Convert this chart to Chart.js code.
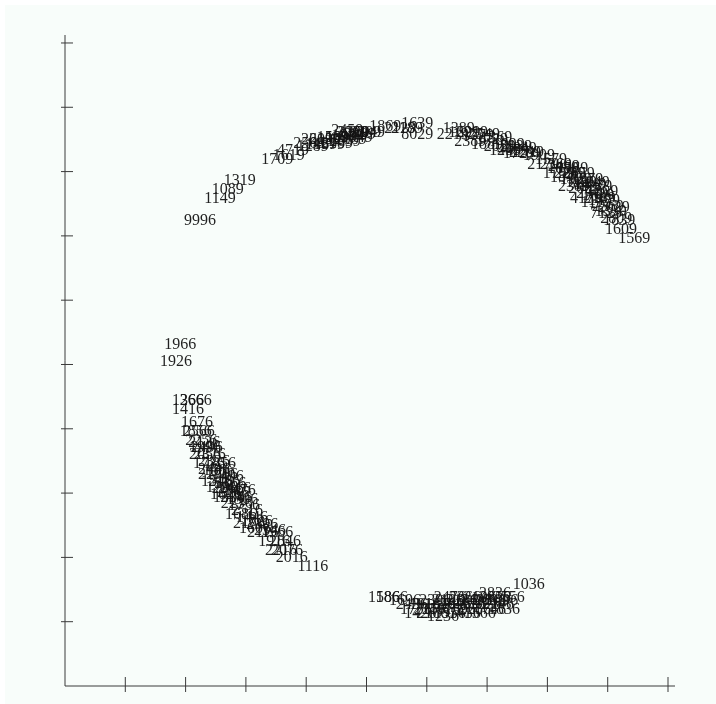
<!DOCTYPE html>
<html>
<head>
<meta charset="utf-8">
<style>
  html, body { margin: 0; padding: 0; background: #fff; }
  #wrap { position: relative; width: 716px; height: 704px; overflow: hidden; }
  #panel { position: absolute; left: 5px; top: 5px; right: 0; bottom: 0; background: #f8fdfa; }
  #chart { position: absolute; left: 0; top: 0; }
</style>
<script src="https://cdn.jsdelivr.net/npm/chart.js@4"></script>
</head>
<body>
<div id="wrap"><div id="panel"></div><canvas id="chart" width="716" height="704"></canvas></div>
<script>
const xTicks = [1, 2, 3, 4, 5, 6, 7, 8, 9, 10];
const yTicks = [1, 2, 3, 4, 5, 6, 7, 8, 9, 10];

// labels overlap a lot so the dense parts are estimates
const topLeftLabels = ['9996','1149','1089','1319','1709','4719','1619','2569','1289','2619','1459','2039','1879','1569','2189','1399','2659','1929','2089','2369','1749','2889','2069','2459','2309','2949','1869','2129','1639','8029','2189'];
const topLeftX = [2.24,2.57,2.70,2.90,3.52,3.78,3.71,4.05,4.11,4.18,4.25,4.31,4.38,4.44,4.51,4.58,4.64,4.69,4.74,4.79,4.84,4.89,4.76,4.68,4.98,5.04,5.31,5.56,5.84,5.84,5.67];
const topLeftY = [7.26,7.59,7.73,7.87,8.20,8.35,8.26,8.46,8.40,8.51,8.43,8.52,8.44,8.54,8.46,8.55,8.49,8.58,8.52,8.62,8.55,8.60,8.63,8.65,8.62,8.63,8.72,8.68,8.77,8.60,8.69];

const rightLabels = [
  '2219','1389','1629','2389','2919','1779','2549','1889','1729','1369',
  '2059','1459','1999','2459','2139','1729','1849','2289','1519','1909',
  '2179','1579','2369','1759','1689','2469','1849','2239','1569','2389',
  '1929','2659','1199','2089','4179','1379','1449','2749','1949','1119',
  '2279','1639','2189','1809','1479','7129','2569','1339','2029','2809',
  '1839','1609','1569'
];
const rightX = [
  6.43,6.53,6.62,6.72,6.75,6.85,6.95,7.00,7.08,7.15,
  7.21,7.30,7.36,7.43,7.48,7.53,7.56,7.63,7.68,7.86,
  7.93,8.06,8.14,8.19,8.26,8.27,8.31,8.37,8.41,8.44,
  8.47,8.52,8.56,8.61,8.64,8.66,8.71,8.74,8.77,8.81,
  8.81,8.84,8.87,8.91,8.94,8.97,9.00,9.05,9.10,9.14,
  9.19,9.22,9.44
];
const rightY = [
  8.60,8.68,8.63,8.49,8.62,8.57,8.60,8.44,8.52,8.54,
  8.41,8.35,8.44,8.35,8.40,8.29,8.38,8.32,8.31,8.26,
  8.13,8.20,8.13,7.99,8.06,8.10,7.92,7.99,8.06,7.79,
  7.90,7.98,7.85,7.75,7.60,7.90,7.81,7.68,7.84,7.53,
  7.78,7.65,7.59,7.71,7.56,7.37,7.48,7.40,7.45,7.28,
  7.25,7.12,6.98
];

const leftLabels = [
  '1966','1926','1366','2666','1416','1676','1856','2566','2256','2136',
  '1996','2496','2056','2376','1736','2326','1856','2446','1586','2276',
  '1916','1496','1546','2186','2356','1796','2066','2416','1626','2286',
  '1476','1536','2146','1306','2236','1756','1686','2516','1446','2176',
  '1826','2396','1606','2116','2346','1966','1916','2846','2216','2016',
  '2076','1116'
];
const leftX = [
  1.91,1.84,2.04,2.17,2.04,2.19,2.17,2.22,2.26,2.31,
  2.32,2.35,2.32,2.40,2.39,2.47,2.57,2.47,2.55,2.47,
  2.60,2.70,2.52,2.64,2.74,2.60,2.70,2.82,2.67,2.79,
  2.90,2.72,2.84,2.94,2.85,2.97,2.92,3.02,3.10,3.05,
  3.18,3.27,3.15,3.28,3.40,3.52,3.47,3.65,3.58,3.76,
  3.68,4.11
];
const leftY = [
  5.33,5.07,4.45,4.45,4.31,4.12,3.98,3.98,3.83,3.81,
  3.72,3.72,3.62,3.62,3.48,3.51,3.48,3.39,3.36,3.31,
  3.30,3.28,3.20,3.20,3.17,3.11,3.09,3.09,3.00,3.02,
  3.05,2.94,2.94,2.92,2.85,2.83,2.69,2.74,2.63,2.55,
  2.58,2.53,2.47,2.41,2.43,2.40,2.26,2.26,2.12,2.01,
  2.13,1.87
];

const bottomLabels = [
  '1586','1866','1696','2436','1776','1426','1916','2256','2166','2396',
  '1846','1236','1976','2106','2476','1356','2046','1596','2186','2366',
  '1456','1636','2286','2496','2106','1566','1976','2036','1746','2836',
  '2356','2146','1896','1836','2556','1036'
];
const bottomX = [
  5.29,5.42,5.64,5.75,5.82,5.89,5.97,6.05,6.09,6.14,
  6.22,6.27,6.30,6.35,6.38,6.38,6.47,6.55,6.58,6.63,
  6.63,6.72,6.80,6.82,6.88,6.88,6.97,7.05,7.05,7.13,
  7.13,7.18,7.25,7.28,7.36,7.69
];
const bottomY = [
  1.40,1.40,1.34,1.28,1.21,1.15,1.28,1.21,1.15,1.34,
  1.28,1.10,1.21,1.34,1.40,1.15,1.28,1.21,1.34,1.40,
  1.15,1.28,1.21,1.34,1.40,1.15,1.28,1.34,1.21,1.46,
  1.40,1.28,1.34,1.21,1.40,1.60
];

const makePoints = (xs, ys) => xs.map((x, i) => ({ x: x, y: ys[i] }));

const axisMarks = {
  id: 'axisMarks',
  afterDraw(chart) {
    const c = chart.ctx;
    const xs = chart.scales.x;
    const ys = chart.scales.y;
    const x0 = xs.getPixelForValue(0);
    const y0 = ys.getPixelForValue(0);
    c.save();
    c.strokeStyle = '#3a3a3a';
    c.lineWidth = 1;
    c.beginPath();
    c.moveTo(x0, y0);
    c.lineTo(xs.right, y0);
    c.moveTo(x0, y0);
    c.lineTo(x0, ys.top);
    xTicks.forEach(t => {
      const p = xs.getPixelForValue(t);
      c.moveTo(p, y0 - 9);
      c.lineTo(p, y0 + 6);
    });
    yTicks.forEach(t => {
      const p = ys.getPixelForValue(t);
      c.moveTo(x0 - 4, p);
      c.lineTo(x0 + 8, p);
    });
    c.stroke();
    c.restore();
  }
};

const pointLabels = {
  id: 'pointLabels',
  afterDatasetsDraw(chart) {
    const c = chart.ctx;
    c.save();
    c.font = '16px "Liberation Serif"';
    c.fillStyle = 'rgba(20, 20, 20, 0.95)';
    c.textAlign = 'center';
    c.textBaseline = 'middle';
    chart.data.datasets.forEach((ds, i) => {
      chart.getDatasetMeta(i).data.forEach((el, j) => {
        c.save();
        // reference digits are a bit taller than this font
        c.translate(el.x, el.y + 1);
        c.scale(1, 1.08);
        c.fillText(ds.labels[j], 0, 0);
        c.restore();
      });
    });
    c.restore();
  }
};

const hiddenPoints = { pointRadius: 0, pointHoverRadius: 0, showLine: false };

new Chart(document.getElementById('chart').getContext('2d'), {
  type: 'scatter',
  data: {
    datasets: [
      { labels: topLeftLabels, data: makePoints(topLeftX, topLeftY), ...hiddenPoints },
      { labels: rightLabels, data: makePoints(rightX, rightY), ...hiddenPoints },
      { labels: leftLabels, data: makePoints(leftX, leftY), ...hiddenPoints },
      { labels: bottomLabels, data: makePoints(bottomX, bottomY), ...hiddenPoints }
    ]
  },
  options: {
    responsive: false,
    animation: false,
    layout: { padding: { left: 65, right: 41, top: 35, bottom: 18 } },
    plugins: { legend: { display: false }, tooltip: { enabled: false } },
    scales: {
      x: { type: 'linear', display: false, min: 0, max: 10.116 },
      y: { type: 'linear', display: false, min: 0, max: 10.124 }
    }
  },
  plugins: [pointLabels, axisMarks]
});
</script>
</body>
</html>
